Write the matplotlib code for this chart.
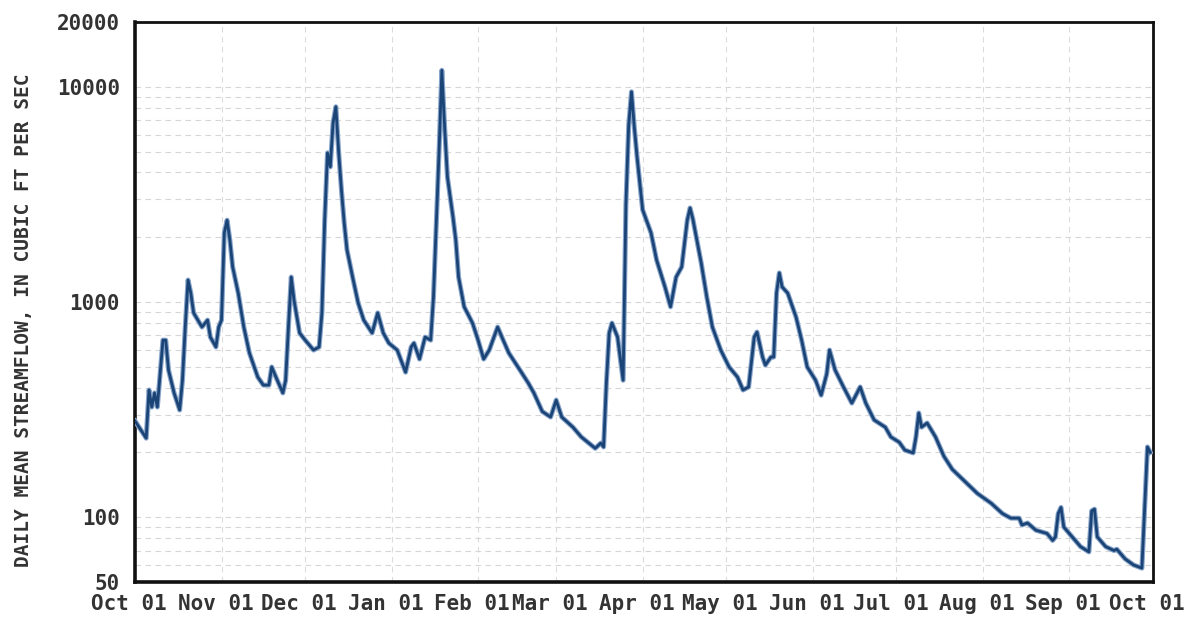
import numpy as np
import matplotlib
matplotlib.use("Agg")
import matplotlib.pyplot as plt
import matplotlib.dates as mdates
import matplotlib.transforms as mtransforms

# water year start and the daily mean flows (day offset, cfs)
start = np.datetime64("1996-10-01")
end = np.datetime64("1997-10-01")

day = [0, 4, 5, 6, 7, 8, 10, 11, 12, 14, 16, 17, 18, 19, 20, 21, 24, 26, 27, 29,
       30, 31, 32, 33, 34, 35, 37, 39, 41, 44, 46, 48, 49, 51, 53, 54, 55, 56, 57, 59,
       61, 64, 66, 67, 68, 69, 70, 71, 72, 73, 74, 75, 76, 78, 80, 82, 85, 87, 89, 91,
       94, 97, 99, 100, 102, 104, 106, 107, 108, 109, 110, 111, 112, 114, 115, 116, 118, 121, 123, 125,
       127, 130, 132, 134, 138, 141, 143, 146, 149, 151, 153, 157, 160, 165, 167, 168, 169, 170, 171, 173,
       174, 175, 176, 177, 178, 179, 180, 182, 185, 187, 190, 192, 194, 196, 198, 199, 200, 203, 205, 207,
       210, 213, 216, 218, 220, 222, 223, 225, 226, 228, 229, 230, 231, 232, 234, 237, 239, 241, 244, 246,
       248, 249, 251, 254, 257, 260, 262, 265, 269, 271, 274, 276, 279, 280, 281, 282, 284, 287, 290, 293,
       297, 302, 307, 311, 314, 317, 318, 320, 323, 327, 329, 330, 331, 332, 333, 336, 339, 342, 343, 344,
       345, 348, 351, 352, 355, 358, 361, 362, 363, 364]

flow = [280, 233, 390, 325, 378, 325, 665, 665, 483, 378, 315, 433, 765, 1265, 1100, 890, 765, 824, 687, 618,
        765, 824, 2095, 2400, 1940, 1455, 1100, 765, 580, 448, 411, 411, 499, 433, 378, 433, 765, 1306, 1020, 718,
        665, 598, 618, 890, 2400, 4930, 4245, 6800, 8075, 4990, 3320, 2330, 1745, 1306, 990, 824, 718, 890, 718, 644,
        598, 472, 618, 644, 543, 687, 665, 1055, 2330, 4990, 11930, 6510, 3810, 2480, 1940, 1306, 950, 798, 665, 543,
        598, 765, 665, 580, 483, 420, 378, 310, 292, 350, 292, 262, 236, 209, 221, 212, 420, 718, 798, 687,
        543, 433, 2825, 6650, 9480, 6510, 4720, 2680, 2095, 1567, 1175, 950, 1306, 1455, 2400, 2735, 2430, 1518, 1055, 765,
        598, 499, 448, 390, 403, 687, 725, 555, 509, 555, 555, 1100, 1365, 1175, 1100, 851, 665, 499, 433, 369,
        463, 598, 483, 403, 339, 403, 339, 283, 262, 236, 223, 205, 199, 236, 305, 262, 274, 236, 192, 167,
        149, 129, 116, 104, 99, 99, 92, 94, 87, 84, 78, 81, 104, 111, 90, 81, 73, 69, 107, 109,
        81, 73, 70, 71, 64, 60, 58, 111, 212, 200]

y_ticks = [50, 100, 1000, 10000, 20000]
y_ticklabels = ["50", "100", "1000", "10000", "20000"]

dates = start + np.array(day).astype("timedelta64[D]")

plt.rcParams["font.family"] = ["DejaVu Sans Mono", "DejaVu Sans"]
plt.rcParams["font.weight"] = "bold"
text_color = "#333333"

fig = plt.figure(figsize=(11.94, 6.2), dpi=100)
ax = fig.add_axes([0.1131, 0.0613, 0.8526, 0.9032])

# scanned line: pale halo under a dark core
ax.plot(dates, flow, color="#86a3c9", lw=3.6, zorder=3)
ax.plot(dates, flow, color="#1a4376", lw=2.0, zorder=4)

ax.set_yscale("log")
ax.set_ylim(50, 20000)
ax.set_xlim(start, end)

ax.set_yticks(y_ticks)
ax.set_yticklabels(y_ticklabels)
ax.yaxis.set_minor_locator(matplotlib.ticker.LogLocator(base=10, subs=np.arange(2, 10)))
ax.yaxis.set_minor_formatter(matplotlib.ticker.NullFormatter())

ax.xaxis.set_major_locator(mdates.MonthLocator())
ax.xaxis.set_major_formatter(mdates.DateFormatter("%b %d"))

ax.tick_params(axis="both", which="both", length=0, colors=text_color)
ax.tick_params(axis="y", labelsize=15, pad=11)
ax.tick_params(axis="x", labelsize=15, pad=9)
for lab in ax.get_xticklabels():
    lab.set_transform(lab.get_transform() + mtransforms.ScaledTranslation(-6 / 100, 0, fig.dpi_scale_trans))

ax.grid(True, which="both", axis="y", color="#d6d6d6", lw=0.8, ls=(0, (5, 4)))
ax.grid(True, which="major", axis="x", color="#dcdcdc", lw=0.8, ls=(0, (5, 4)))
ax.set_axisbelow(True)

for side, lw in [("left", 2.6), ("bottom", 2.6), ("top", 2.0), ("right", 2.0)]:
    ax.spines[side].set_linewidth(lw)
    ax.spines[side].set_color("#111111")

ax.set_ylabel("DAILY MEAN STREAMFLOW, IN CUBIC FT PER SEC", fontsize=14,
              color=text_color, fontweight="bold")
ax.yaxis.set_label_coords(-0.1, 0.468)

fig.savefig("out.png", dpi=100)
